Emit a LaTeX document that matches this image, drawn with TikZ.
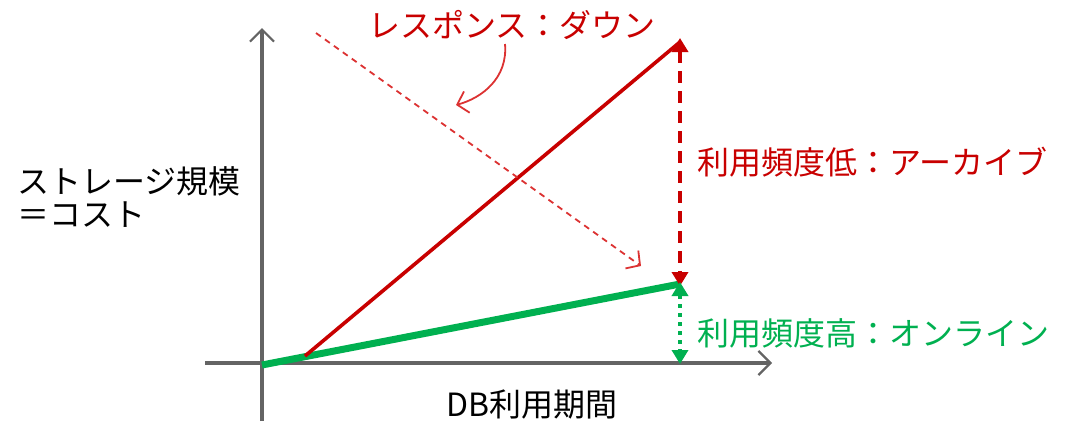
\documentclass[tikz,border=0pt]{standalone}
\usepackage{fontspec}
\setmainfont{Noto Sans CJK JP}
\usetikzlibrary{arrows.meta}
\definecolor{dred}{RGB}{200,0,0}
\definecolor{lred}{RGB}{220,50,50}
\definecolor{dgreen}{RGB}{0,176,80}
\definecolor{axisgray}{RGB}{100,100,100}
\begin{document}
\begin{tikzpicture}[x=1pt,y=-1pt,
  axis/.style={draw=axisgray,line width=3.2pt,-{Straight Barb[length=12pt,width=24pt,line width=2.2pt]}},
  thinarrow/.style={lred,line width=1.8pt,-{Straight Barb[length=10pt,width=22pt,line width=1.8pt]}},
  lbl/.style={font=\fontsize{32}{36}\selectfont,inner sep=0pt,anchor=west},
  ]
\useasboundingbox (0,0) rectangle (1066,421);
% coordinates
\coordinate (O) at (262,365);
\coordinate (ytop) at (262,28);
\coordinate (ybot) at (262,421);
\coordinate (xl) at (205,363);
\coordinate (xr) at (772,363);
\coordinate (gend) at (680,284);
\coordinate (rstart) at (305,356);
\coordinate (rend) at (680,42);
\coordinate (xbase) at (680,363);
\coordinate (dstart) at (316,33);
\coordinate (dend) at (641,266);
\coordinate (cstart) at (505,44);
\coordinate (cend) at (456,105);
% axes
\draw[axis] (ybot) -- (ytop);
\draw[axis] (xl) -- (xr);
% lines
\draw[dgreen,line width=7pt] (O) -- (gend);
\draw[dred,line width=3.6pt] (rstart) -- (rend);
% vertical arrows
\draw[dred,line width=4pt,dash pattern=on 12pt off 8pt,{Triangle[length=14pt,width=16pt]}-{Triangle[length=14pt,width=16pt]}] (rend) ++(0,-4) -- ([yshift=-2pt]gend);
\draw[dgreen,line width=4pt,dash pattern=on 4pt off 5pt,{Triangle[length=14pt,width=16pt]}-{Triangle[length=14pt,width=16pt]}] ([yshift=2pt]gend) -- ([yshift=-1pt]xbase);
% thin dashed arrow
\draw[thinarrow,dash pattern=on 6pt off 5pt] (dstart) -- (dend);
% curved arrow
\draw[thinarrow] (cstart) .. controls (508,78) and (482,98) .. (cend);
% labels
\node[lbl,text=dred] (resp) at (368,25) {レスポンス：ダウン};
\node[lbl,text=dred] (low) at (697,162) {利用頻度低：アーカイブ};
\node[lbl,text=dgreen] (high) at (697,333) {利用頻度高：オンライン};
\node[lbl] (ylab1) at (17,181) {ストレージ規模};
\node[lbl] (ylab2) at (17,215) {＝コスト};
\node[lbl,anchor=center] (xlab) at (532,405) {DB利用期間};
\end{tikzpicture}
\end{document}
